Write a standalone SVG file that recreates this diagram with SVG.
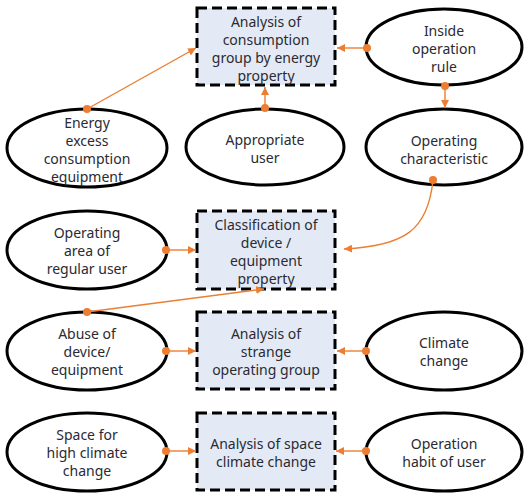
<svg xmlns="http://www.w3.org/2000/svg" width="524" height="493" viewBox="0 0 524 493">
<style>
.box{fill:#e4eaf5;stroke:#000;stroke-width:3;stroke-dasharray:10 5}
.ell{fill:#fff;stroke:#000;stroke-width:3}
text{font-family:"Noto Sans","Liberation Sans",sans-serif;font-size:14px;fill:#2a2a33;text-anchor:middle;dominant-baseline:central}
.c{stroke:#ed7d31;stroke-width:1.4;fill:none;marker-end:url(#ah)}
.d{fill:#ed7d31}
</style>
<defs>
<marker id="ah" viewBox="0 0 10 10" refX="10" refY="5" markerWidth="8" markerHeight="8" markerUnits="userSpaceOnUse" orient="auto">
<path d="M0,0 L10,5 L0,10 z" fill="#ed7d31"/>
</marker>
</defs>
<rect width="524" height="493" fill="#fff"/>
<g id="box1"><rect class="box" x="197" y="8" width="138" height="77"/>
<text x="266" y="21">Analysis of</text><text x="266" y="39">consumption</text><text x="266" y="57">group by energy</text><text x="266" y="75">property</text></g>
<g id="box2"><rect class="box" x="197" y="211" width="138" height="78"/>
<text x="266" y="224">Classification of</text><text x="266" y="242">device /</text><text x="266" y="260">equipment</text><text x="266" y="278">property</text></g>
<g id="box3"><rect class="box" x="197" y="312" width="138" height="77"/>
<text x="266" y="333">Analysis of</text><text x="266" y="351">strange</text><text x="266" y="369">operating group</text></g>
<g id="box4"><rect class="box" x="197" y="413" width="138" height="77"/>
<text x="266" y="443">Analysis of space</text><text x="266" y="461">climate change</text></g>
<g id="inside"><ellipse class="ell" cx="444" cy="47" rx="78" ry="38"/>
<text x="444" y="30">Inside</text><text x="444" y="48">operation</text><text x="444" y="66">rule</text></g>
<g id="energy"><ellipse class="ell" cx="87" cy="148" rx="80" ry="39"/>
<text x="87" y="122">Energy</text><text x="87" y="140">excess</text><text x="87" y="158">consumption</text><text x="87" y="176">equipment</text></g>
<g id="appropriate"><ellipse class="ell" cx="265" cy="147" rx="79" ry="38"/>
<text x="265" y="139">Appropriate</text><text x="265" y="157">user</text></g>
<g id="opchar"><ellipse class="ell" cx="444" cy="147" rx="78" ry="38"/>
<text x="444" y="140">Operating</text><text x="444" y="158">characteristic</text></g>
<g id="oparea"><ellipse class="ell" cx="87" cy="250" rx="80" ry="39"/>
<text x="87" y="232">Operating</text><text x="87" y="250">area of</text><text x="87" y="268">regular user</text></g>
<g id="abuse"><ellipse class="ell" cx="87" cy="351" rx="80" ry="39"/>
<text x="87" y="333">Abuse of</text><text x="87" y="351">device/</text><text x="87" y="369">equipment</text></g>
<g id="climate"><ellipse class="ell" cx="444" cy="351" rx="78" ry="39"/>
<text x="444" y="342">Climate</text><text x="444" y="360">change</text></g>
<g id="space"><ellipse class="ell" cx="87" cy="452" rx="80" ry="39"/>
<text x="87" y="434">Space for</text><text x="87" y="452">high climate</text><text x="87" y="470">change</text></g>
<g id="habit"><ellipse class="ell" cx="444" cy="452" rx="78" ry="39"/>
<text x="444" y="443">Operation</text><text x="444" y="461">habit of user</text></g>
<g id="connectors">
<path class="c" d="M87,109 L196,48"/><circle class="d" cx="87" cy="109" r="4"/>
<path class="c" d="M265,108 L265,87"/><circle class="d" cx="265" cy="108" r="4"/>
<path class="c" d="M367,48 L337,48"/><circle class="d" cx="367" cy="48" r="4"/>
<path class="c" d="M445,86 L445,108"/><circle class="d" cx="445" cy="86" r="4"/>
<path class="c" d="M433,180 C428,230 405,246 344,249"/><circle class="d" cx="433" cy="180" r="4"/>
<path class="c" d="M166,250 L196,250"/><circle class="d" cx="166" cy="250" r="4"/>
<path class="c" d="M87,312 L264,289"/><circle class="d" cx="87" cy="312" r="4"/>
<path class="c" d="M166,351 L196,351"/><circle class="d" cx="166" cy="351" r="4"/>
<path class="c" d="M366,351 L337,351"/><circle class="d" cx="366" cy="351" r="4"/>
<path class="c" d="M166,451 L196,451"/><circle class="d" cx="166" cy="451" r="4"/>
<path class="c" d="M366,451 L336,451"/><circle class="d" cx="366" cy="451" r="4"/>
</g>
</svg>
